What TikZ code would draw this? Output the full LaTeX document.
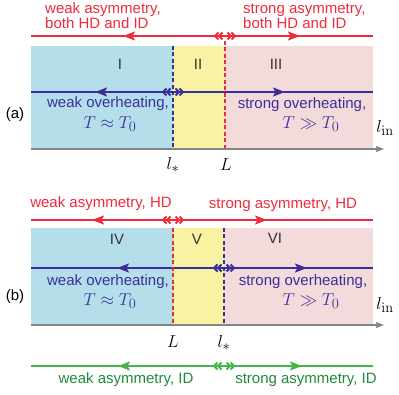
\documentclass[tikz,border=0pt]{standalone}
\usepackage{amsmath,amssymb}
\usepackage[no-math]{fontspec}
\setmainfont{Liberation Sans}
\usetikzlibrary{arrows.meta,positioning}
\definecolor{Crimson}{HTML}{EE2B3B}
\definecolor{Indigo}{HTML}{3A2F9A}
\definecolor{Leaf}{HTML}{45B549}
\definecolor{DarkLeaf}{HTML}{1E8B3C}
\definecolor{Ash}{HTML}{858585}
\definecolor{Ink}{HTML}{333333}
\definecolor{SkyFill}{HTML}{B5DEEB}
\definecolor{LemonFill}{HTML}{F8F3A3}
\definecolor{RoseFill}{HTML}{F3DBDB}
\tikzset{
  lbl/.style={font=\fontsize{15}{15}\selectfont,inner sep=0pt},
  mth/.style={font=\fontsize{19}{19}\selectfont,inner sep=0pt},
  chev/.style={line width=1.8pt,line join=miter,line cap=butt},
  track/.style={line width=2pt},
  tip/.style={-{Stealth[length=12pt,width=9pt,inset=2.5pt]}},
  edge/.style={line width=1.8pt,dash pattern=on 4pt off 2.5pt},
  axis/.style={line width=2pt,draw=Ash,-{Stealth[length=8pt,width=6pt,inset=1pt]}}
}
% double chevrons << >> around a named coordinate
\newcommand{\chevs}[2]{%
  \foreach \dx in {0,4}{
    \draw[chev,#2] ([shift={(-\dx-2.5,-3.5)}]#1) -- ([shift={(-\dx-6,0)}]#1) -- ([shift={(-\dx-2.5,3.5)}]#1);
    \draw[chev,#2] ([shift={(\dx+2.5,-3.5)}]#1) -- ([shift={(\dx+6,0)}]#1) -- ([shift={(\dx+2.5,3.5)}]#1);
  }}
\begin{document}
\begin{tikzpicture}[x=1pt,y=-1pt]
  \useasboundingbox (0,0) rectangle (399,395);
  % panel (a)
  \fill[SkyFill] (31,46) rectangle (173,149);
  \fill[LemonFill] (173,46) rectangle (225,149);
  \fill[RoseFill] (225,46) rectangle (373,149);
  \node[lbl,text=Crimson,anchor=west,align=left] (aWeakAs) at (45,16) {weak asymmetry,\\both HD and ID};
  \node[lbl,text=Crimson,anchor=west,align=left] (aStrAs) at (243,16) {strong asymmetry,\\both HD and ID};
  \coordinate (aRedW) at (31,36); \coordinate (aRedE) at (373,36);
  \coordinate (aRedTL) at (123,36); \coordinate (aRedTR) at (300,36);
  \coordinate (aRedCh) at (225,36);
  \draw[track,Crimson] (aRedW) -- (aRedE);
  \draw[track,tip,Crimson] (aRedCh) -- (aRedTL);
  \draw[track,tip,Crimson] (aRedCh) -- (aRedTR);
  \chevs{aRedCh}{Crimson}
  \coordinate (aBluW) at (31,92); \coordinate (aBluE) at (373,92);
  \coordinate (aBluTL) at (95,92); \coordinate (aBluTR) at (285,92);
  \coordinate (aBluCh) at (173,92);
  \draw[track,Indigo] (aBluW) -- (aBluE);
  \draw[track,tip,Indigo] (aBluCh) -- (aBluTL);
  \draw[track,tip,Indigo] (aBluCh) -- (aBluTR);
  \chevs{aBluCh}{Indigo}
  \draw[edge,Indigo] (173,46) -- (173,149);
  \draw[edge,Crimson] (225,41) -- (225,149);
  \coordinate (aAxW) at (31,149); \coordinate (aAxE) at (384,149);
  \draw[axis] (aAxW) -- (aAxE);
  \node[lbl,text=Ink] (rI) at (120,64) {I};
  \node[lbl,text=Ink] (rII) at (198,64) {II};
  \node[lbl,text=Ink] (rIII) at (276,64) {III};
  \node[lbl] (tagA) at (15,115) {(a)};
  \node[lbl,text=Indigo] (aWeakOv) at (108,104) {weak overheating,};
  \node[mth,text=Indigo] (aWeakT) at (110,124) {$T\approx T_0$};
  \node[lbl,text=Indigo] (aStrOv) at (302,105) {strong overheating,};
  \node[mth,text=Indigo] (aStrT) at (311,124) {$T\gg T_0$};
  \node[mth] (aLin) at (385,128) {$l_{\mathrm{in}}$};
  \node[mth] (aLst) at (173,165) {$l_*$};
  \node[mth] (aL) at (226,165) {$L$};
  % panel (b)
  \fill[SkyFill] (31,228) rectangle (173,325);
  \fill[LemonFill] (173,228) rectangle (224,325);
  \fill[RoseFill] (224,228) rectangle (373,325);
  \node[lbl,text=Crimson] (bWeakAs) at (101,204) {weak asymmetry, HD};
  \node[lbl,text=Crimson] (bStrAs) at (283,205) {strong asymmetry, HD};
  \coordinate (bRedW) at (31,220); \coordinate (bRedE) at (373,220);
  \coordinate (bRedTL) at (92,220); \coordinate (bRedTR) at (267,220);
  \coordinate (bRedCh) at (173,220);
  \draw[track,Crimson] (bRedW) -- (bRedE);
  \draw[track,tip,Crimson] (bRedCh) -- (bRedTL);
  \draw[track,tip,Crimson] (bRedCh) -- (bRedTR);
  \chevs{bRedCh}{Crimson}
  \coordinate (bBluW) at (31,268); \coordinate (bBluE) at (373,268);
  \coordinate (bBluTL) at (117,268); \coordinate (bBluTR) at (307,268);
  \coordinate (bBluCh) at (224,268);
  \draw[track,Indigo] (bBluW) -- (bBluE);
  \draw[track,tip,Indigo] (bBluCh) -- (bBluTL);
  \draw[track,tip,Indigo] (bBluCh) -- (bBluTR);
  \chevs{bBluCh}{Indigo}
  \draw[edge,Crimson] (173,228) -- (173,325);
  \draw[edge,Indigo] (224,228) -- (224,325);
  \coordinate (bAxW) at (31,325); \coordinate (bAxE) at (384,325);
  \draw[axis] (bAxW) -- (bAxE);
  \node[lbl,text=Ink] (rIV) at (117,239) {IV};
  \node[lbl,text=Ink] (rV) at (197,239) {V};
  \node[lbl,text=Ink] (rVI) at (275,238) {VI};
  \node[lbl] (tagB) at (15,297) {(b)};
  \node[lbl,text=Indigo] (bWeakOv) at (108,282) {weak overheating,};
  \node[mth,text=Indigo] (bWeakT) at (110,301) {$T\approx T_0$};
  \node[lbl,text=Indigo] (bStrOv) at (303,282) {strong overheating,};
  \node[mth,text=Indigo] (bStrT) at (311,301) {$T\gg T_0$};
  \node[mth] (bLin) at (385,305) {$l_{\mathrm{in}}$};
  \node[mth] (bL) at (173,342) {$L$};
  \node[mth] (bLst) at (224,343) {$l_*$};
  % inelastic-dominated asymmetry
  \coordinate (gW) at (31,366); \coordinate (gE) at (373,366);
  \coordinate (gTL) at (118,366); \coordinate (gTR) at (302,366);
  \coordinate (gCh) at (224,366);
  \draw[track,Leaf] (gW) -- (gE);
  \draw[track,tip,Leaf] (gCh) -- (gTL);
  \draw[track,tip,Leaf] (gCh) -- (gTR);
  \chevs{gCh}{Leaf}
  \node[lbl,text=DarkLeaf] (gWeak) at (126,380) {weak asymmetry, ID};
  \node[lbl,text=DarkLeaf] (gStr) at (306,380) {strong asymmetry, ID};
\end{tikzpicture}
\end{document}
